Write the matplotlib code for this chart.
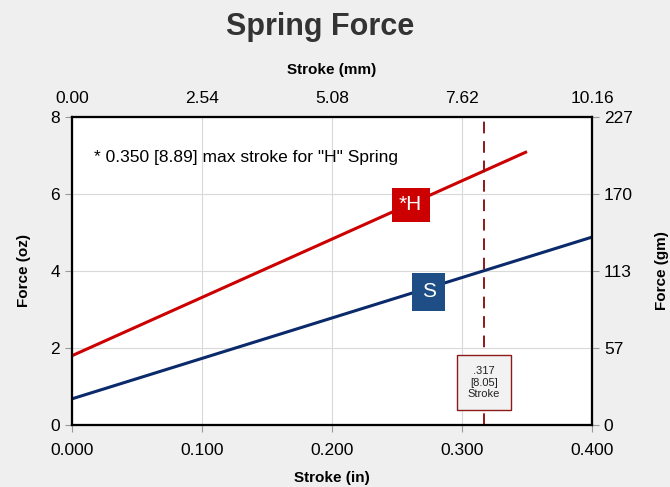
import matplotlib.pyplot as plt
import numpy as np

plt.rcParams['font.family'] = ['Liberation Sans', 'DejaVu Sans']

# data
stroke_h = [0.0, 0.350]
force_h = [1.80, 7.10]
stroke_s = [0.0, 0.400]
force_s = [0.68, 4.88]
max_stroke = 0.317

x_ticks = [0.0, 0.1, 0.2, 0.3, 0.4]
x_labels = ['0.000', '0.100', '0.200', '0.300', '0.400']
mm_labels = ['0.00', '2.54', '5.08', '7.62', '10.16']
y_ticks = [0, 2, 4, 6, 8]
gm_labels = ['0', '57', '113', '170', '227']

red = '#cc0000'
navy = '#0b2a6b'
box_blue = '#1f4e86'
dark_red = '#8b1a1a'

fig = plt.figure(figsize=(6.7, 4.87), dpi=100)
fig.patch.set_facecolor('#efefef')
ax = fig.add_axes([0.1075, 0.1273, 0.7761, 0.6325])
ax.set_facecolor('white')

ax.plot(stroke_h, force_h, color=red, lw=2.2, solid_capstyle='butt')
ax.plot(stroke_s, force_s, color=navy, lw=2.2, solid_capstyle='butt')
ax.axvline(max_stroke, color=dark_red, lw=1.4, ls=(0, (6, 4)))

ax.set_xlim(0, 0.4)
ax.set_ylim(0, 8)
ax.set_xticks(x_ticks)
ax.set_xticklabels(x_labels)
ax.set_yticks(y_ticks)
ax.grid(True, color='#d9d9d9', lw=0.8)
ax.set_axisbelow(True)
for s in ax.spines.values():
    s.set_linewidth(1.5)
    s.set_color('black')
ax.tick_params(labelsize=12.5, length=5, color='#999999', width=0.8)
ax.tick_params(axis='x', pad=8)
ax.set_xlabel('Stroke (in)', fontsize=11, fontweight='bold', labelpad=9)
ax.set_ylabel('Force (oz)', fontsize=11, fontweight='bold', labelpad=14)

# top axis (mm)
axt = ax.twiny()
axt.set_xlim(ax.get_xlim())
axt.set_xticks(x_ticks)
axt.set_xticklabels(mm_labels)
axt.tick_params(labelsize=12.5, length=0, pad=8)
axt.set_xlabel('Stroke (mm)', fontsize=11, fontweight='bold', labelpad=12)

# right axis (gm)
axr = ax.twinx()
axr.set_ylim(ax.get_ylim())
axr.set_yticks(y_ticks)
axr.set_yticklabels(gm_labels)
axr.tick_params(labelsize=12.5, length=5, color='#999999', width=0.8)
axr.set_ylabel('Force (gm)', fontsize=11, fontweight='bold', labelpad=16)
for a in (axt, axr):
    for s in a.spines.values():
        s.set_linewidth(1.5)

ax.text(0.017, 6.95, '* 0.350 [8.89] max stroke for "H" Spring', fontsize=12.5,
        ha='left', va='center')
ax.text(0.2605, 5.72, '*H', fontsize=15, color='white', ha='center', va='center',
        bbox=dict(boxstyle='square,pad=0.36', fc=red, ec='none'))
ax.text(0.2745, 3.46, 'S', fontsize=15, color='white', ha='center', va='center',
        bbox=dict(boxstyle='square,pad=0.45', fc=box_blue, ec='none'))
ax.text(max_stroke, 1.1, '.317\n[8.05]\nStroke', fontsize=8, ha='center', va='center',
        linespacing=1.2, color='#222222',
        bbox=dict(boxstyle='square,pad=0.95', fc='#f2f2f2', ec=dark_red, lw=1))

fig.text(0.478, 0.945, 'Spring Force', fontsize=22, fontweight='bold', ha='center',
         va='center', color='#333333')

fig.savefig('out.png', dpi=100, facecolor=fig.get_facecolor())
